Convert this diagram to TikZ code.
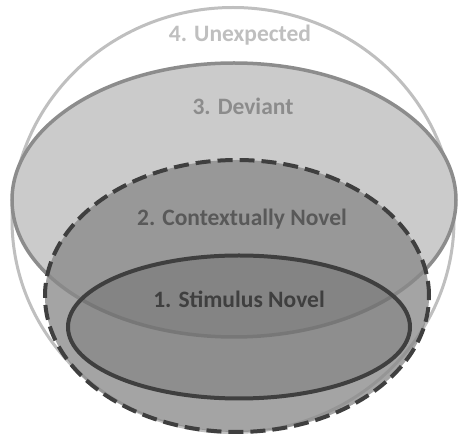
\documentclass[tikz,border=0pt]{standalone}
\usepackage{fontspec}
\setmainfont{Carlito}
\usetikzlibrary{shapes.geometric}

\definecolor{outerline}{HTML}{BFBFBF}
\definecolor{devline}{HTML}{8C8C8C}
\definecolor{devfill}{HTML}{CBCBCB}
\definecolor{ctxfill}{HTML}{898989}
\definecolor{darkline}{HTML}{3F3F3F}

\tikzstyle{region} = [ellipse, inner sep=0pt, outer sep=0pt]
\tikzstyle{unexpected} = [region, draw=outerline, line width=3pt, fill=white, minimum width=442pt, minimum height=425pt]
\tikzstyle{deviant} = [region, draw=devline, line width=3.5pt, fill=devfill, minimum width=444pt, minimum height=274pt]
\tikzstyle{contextual} = [region, draw=darkline, line width=4pt, dash pattern=on 15pt off 7pt, fill=ctxfill, fill opacity=0.77, minimum width=384pt, minimum height=272pt]
\tikzstyle{stimulus} = [region, draw=darkline, line width=4pt, fill=black, fill opacity=0.13, minimum width=342pt, minimum height=143pt]
\tikzstyle{regiontext} = [anchor=base, inner sep=0pt, font=\bfseries\fontsize{23.5}{28}\selectfont]

\begin{document}
\begin{tikzpicture}[x=1pt, y=-1pt]

    \useasboundingbox (0, 0) rectangle (459, 435);

    \node (unexpected) [unexpected] at (233, 220) {};
    \node (deviant) [deviant] at (234, 200) {};
    \node (contextual) [contextual] at (237, 296) {};
    \node (stimulus) [stimulus] at (239, 327) {};

    \node (unexpectedtext) [regiontext, text=outerline] at (240, 42) {4. Unexpected};
    \node (devianttext) [regiontext, text=devline] at (243, 115) {3. Deviant};
    \node (contextualtext) [regiontext, text=black!65] at (242, 226) {2. Contextually Novel};
    \node (stimulustext) [regiontext, text=darkline] at (239, 308) {1. Stimulus Novel};

\end{tikzpicture}
\end{document}
